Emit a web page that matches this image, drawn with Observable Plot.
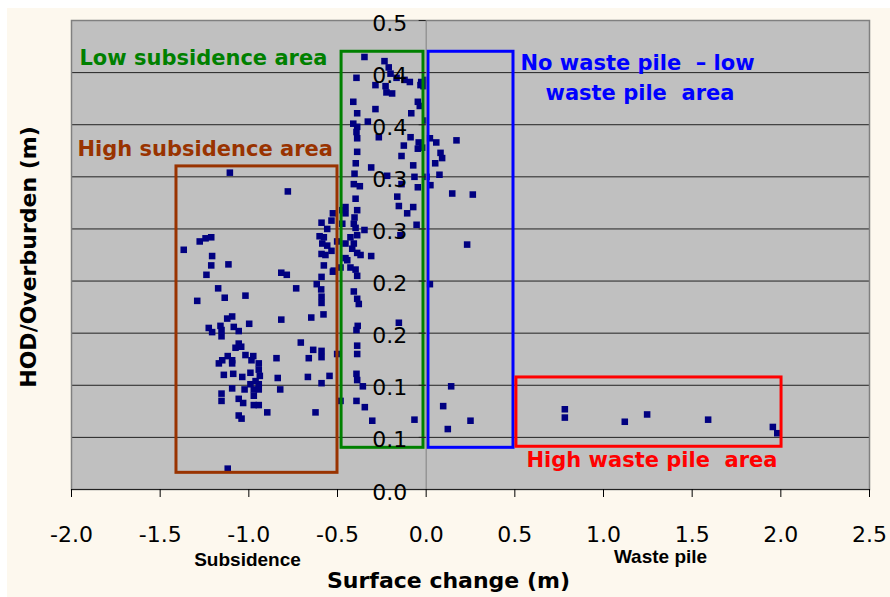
<!DOCTYPE html>
<html><head><meta charset="utf-8">
<script src="https://cdn.jsdelivr.net/npm/d3@7"></script>
<script src="https://cdn.jsdelivr.net/npm/@observablehq/plot@0.6"></script>
<style>
html,body{margin:0;padding:0;background:#fff;}
#chart{position:absolute;left:7px;top:8px;width:883px;height:589px;background:#fdf8ee;}
#chart svg text{white-space:pre;}
</style></head><body><div id="chart"></div>
<script>
const xTicks = [-2, -1.5, -1, -0.5, 0, 0.5, 1, 1.5, 2, 2.5];
const xTickLabels = ["-2.0","-1.5","-1.0","-0.5","0.0","0.5","1.0","1.5","2.0","2.5"];
const yTicks = [0, 0.05, 0.1, 0.15, 0.2, 0.25, 0.3, 0.35, 0.4, 0.45];
const yTickLabels = ["0.0","0.1","0.1","0.2","0.2","0.3","0.3","0.4","0.4","0.5"];

const highSubsidence = [
[-1.107,0.304],[-0.780,0.286],[-1.367,0.230],[-1.277,0.238],[-1.244,0.241],[-1.212,0.242],[-1.207,0.224],[-1.212,0.215],[-1.115,0.216],[-1.239,0.206],[-1.173,0.193],[-1.136,0.184],[-1.291,0.181],[-1.019,0.186],[-0.817,0.208],[-0.786,0.206],[-0.733,0.193],[-1.094,0.166],[-1.122,0.164],[-0.817,0.163],[-0.648,0.165],[-0.579,0.168],
[-0.526,0.265],[-0.534,0.258],[-0.590,0.256],[-0.558,0.250],[-0.601,0.243],[-0.577,0.242],[-0.586,0.236],[-0.558,0.234],[-0.534,0.229],[-0.590,0.226],[-0.568,0.225],[-0.502,0.238],[-0.577,0.215],[-0.526,0.209],[-0.590,0.204],[-0.617,0.197],[-0.592,0.192],[-0.590,0.185],[-0.590,0.179],[-0.521,0.210],
[-1.160,0.157],[-1.226,0.155],[-1.207,0.151],[-1.154,0.153],[-1.154,0.147],[-1.085,0.156],[-1.057,0.152],[-0.998,0.159],[-1.057,0.140],[-1.075,0.136],[-1.043,0.137],[-0.707,0.141],[-0.637,0.134],[-0.590,0.133],[-0.590,0.127],[-0.662,0.126],[-0.502,0.130],[-0.844,0.126],[-1.019,0.129],[-0.975,0.128],[-0.985,0.124],[-1.119,0.128],[-1.150,0.124],[-1.169,0.121],[-1.094,0.124],[-1.094,0.121],[-0.944,0.121],[-0.944,0.115],[-1.141,0.110],[-1.088,0.111],[-1.037,0.108],[-0.991,0.112],[-0.938,0.109],[-0.962,0.104],[-0.991,0.101],[-0.944,0.101],[-0.944,0.096],[-0.972,0.096],[-1.024,0.096],[-1.094,0.097],[-0.837,0.107],[-0.823,0.096],[-0.667,0.108],[-0.590,0.102],[-0.545,0.109],[-1.154,0.092],[-1.154,0.085],[-1.057,0.087],[-1.032,0.083],[-0.972,0.090],[-0.972,0.081],[-0.944,0.081],[-0.896,0.074],[-1.057,0.071],[-1.041,0.068],[-0.624,0.074],[-0.483,0.085],[-1.119,0.020]
];
const lowSubsidence = [
[-0.348,0.415],[-0.235,0.411],[-0.211,0.405],[-0.201,0.399],[-0.393,0.395],[-0.167,0.395],[-0.122,0.393],[-0.092,0.391],[-0.028,0.391],[-0.004,0.393],[-0.032,0.388],[-0.286,0.388],[-0.229,0.387],[-0.224,0.381],[-0.192,0.380],[-0.015,0.387],[-0.411,0.372],[-0.047,0.372],[-0.036,0.368],[-0.389,0.361],[-0.286,0.365],[-0.084,0.361],[-0.411,0.351],[-0.389,0.348],[-0.329,0.353],[-0.393,0.343],[-0.389,0.337],[-0.267,0.338],[-0.088,0.338],[-0.042,0.333],[-0.004,0.354],[-0.126,0.330],[-0.047,0.327],[-0.022,0.328],[-0.389,0.324],[-0.139,0.320],[-0.397,0.313],[-0.310,0.309],[-0.073,0.311],[-0.404,0.303],[-0.220,0.301],[-0.066,0.300],[-0.408,0.293],[-0.374,0.291],[-0.139,0.293],[-0.047,0.290],[-0.073,0.271],[-0.054,0.254],[0.002,0.300],
[-0.163,0.281],[-0.398,0.279],[-0.154,0.272],[-0.107,0.265],[-0.455,0.271],[-0.455,0.265],[-0.389,0.268],[-0.404,0.261],[-0.408,0.255],[-0.473,0.255],[-0.348,0.249],[-0.398,0.251],[-0.427,0.242],[-0.389,0.244],[-0.455,0.236],[-0.408,0.236],[-0.417,0.231],[-0.389,0.227],[-0.370,0.225],[-0.310,0.224],[-0.455,0.222],[-0.445,0.220],[-0.427,0.213],[-0.483,0.213],[-0.398,0.211],[-0.389,0.205],[-0.408,0.190],[-0.389,0.183],[-0.380,0.178],[-0.386,0.157],[-0.154,0.160],[-0.145,0.244],[-0.473,0.268],
[-0.393,0.153],[-0.389,0.138],[-0.389,0.130],[-0.393,0.111],[-0.389,0.105],[-0.357,0.099],[-0.393,0.085],[-0.346,0.079],[-0.304,0.066],[-0.066,0.067]
];
const lowWastePile = [
[0.021,0.337],[0.057,0.333],[0.171,0.335],[0.081,0.323],[0.090,0.318],[0.051,0.313],[0.075,0.302],[0.024,0.292],[0.147,0.284],[0.263,0.283],[0.231,0.235],[0.021,0.197],[0.141,0.099],[0.096,0.080],[0.250,0.066],[0.122,0.058]
];
const highWastePile = [
[0.782,0.077],[0.782,0.069],[1.120,0.065],[1.246,0.072],[1.590,0.067],[1.955,0.060],[1.980,0.054]
];

const regions = [
  {x1: -1.408, x2: -0.500, y1: 0.016, y2: 0.310, color: "#993300"},
  {x1: -0.477, x2: -0.015, y1: 0.040, y2: 0.420, color: "#008000"},
  {x1: 0.013, x2: 0.4925, y1: 0.040, y2: 0.420, color: "#0000ff"},
  {x1: 0.509, x2: 2.004, y1: 0.041, y2: 0.1075, color: "#ff0000"}
];
const regionLabels = [
  {text: "Low subsidence area", x: -1.955, y: 0.4136, color: "#008000"},
  {text: "High subsidence area", x: -1.966, y: 0.3262, color: "#993300"},
  {text: "No waste pile  \u2013 low", x: 0.532, y: 0.4088, color: "#0000ff"},
  {text: "waste pile  area", x: 0.673, y: 0.380, color: "#0000ff"},
  {text: "High waste pile  area", x: 0.566, y: 0.0278, color: "#ff0000"}
];
const axisNotes = [
  {text: "Subsidence", x: -1.0075, y: -0.0672},
  {text: "Waste pile", x: 1.3215, y: -0.0643}
];

const points = [
  ...highSubsidence, ...lowSubsidence, ...lowWastePile, ...highWastePile
].map(([x, y]) => ({x, y}));

const chart = Plot.plot({
  width: 883, height: 589,
  marginLeft: 64, marginRight: 21, marginTop: 12, marginBottom: 108,
  style: {background: "transparent", fontFamily: "DejaVu Sans", overflow: "visible"},
  x: {domain: [-2, 2.5]},
  y: {domain: [0, 0.45], axis: null},
  marks: [
    Plot.frame({fill: "#c0c0c0"}),
    Plot.ruleY(yTicks.slice(1), {stroke: "#222", strokeWidth: 1}),
    Plot.frame({stroke: "#808080", strokeWidth: 1.5}),
    Plot.ruleY([0], {stroke: "#222"}),
    Plot.dot(points, {x: "x", y: "y", symbol: "square", r: 3.7, fill: "#000080"}),
    ...regions.map(r => Plot.rect([r], {x1: "x1", x2: "x2", y1: "y1", y2: "y2", stroke: r.color, fill: "none", strokeWidth: 3})),
    Plot.ruleX([0], {stroke: "#808080"}),
    Plot.ruleY(yTicks, {x1: 0, x2: 0, insetLeft: -7, stroke: "#222"}),
    Plot.text(yTicks, {x: 0, y: d => d, text: (d, i) => yTickLabels[i], textAnchor: "end", dx: -19, dy: 3, fontSize: 22, fill: "#000"}),
    Plot.axisX({ticks: xTicks, tickFormat: d => xTickLabels[xTicks.indexOf(d)], tickSize: 8, tickPadding: 29, fontSize: 22, label: null}),
    ...regionLabels.map(a => Plot.text([a], {x: "x", y: "y", text: "text", fill: a.color, textAnchor: "start", lineAnchor: "middle", fontWeight: "bold", fontSize: 21})),
    Plot.text(axisNotes, {x: "x", y: "y", text: "text", fontFamily: "Liberation Sans", fontWeight: "bold", fontSize: 19, lineAnchor: "middle", fill: "#000"}),
    Plot.text(["Surface change (m)"], {frameAnchor: "bottom", dx: -22, dy: 91, textAnchor: "middle", lineAnchor: "middle", fontWeight: "bold", fontSize: 22, fill: "#000"}),
    Plot.text(["HOD/Overburden (m)"], {frameAnchor: "left", rotate: -90, dx: -43, dy: 2, textAnchor: "middle", lineAnchor: "middle", fontWeight: "bold", fontSize: 22, fill: "#000"})
  ]
});
document.getElementById("chart").appendChild(chart);
</script>
</body></html>
